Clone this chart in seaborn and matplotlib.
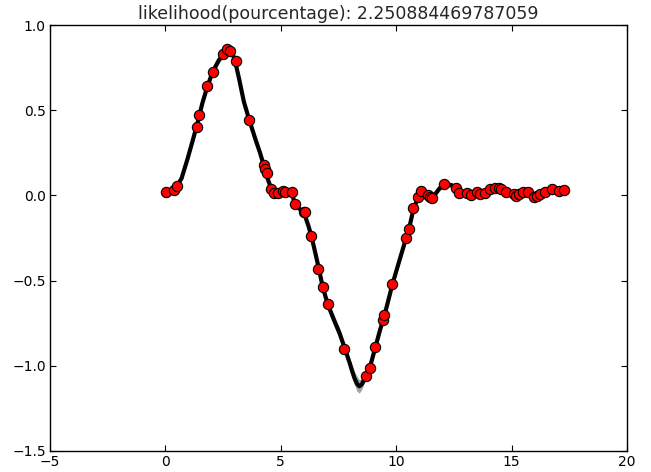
import matplotlib
matplotlib.use("Agg")
import matplotlib.pyplot as plt
import seaborn as sns
import numpy as np
import pandas as pd

title = "likelihood(pourcentage): 2.250884469787059"

# observed points
obs_x = [0.03, 0.38, 0.49, 1.36, 1.46, 1.82, 2.05, 2.51, 2.69, 2.80, 3.06, 3.64,
         4.28, 4.33, 4.40, 4.58, 4.71, 4.90, 5.09, 5.19, 5.49, 5.62, 6.00, 6.06,
         6.32, 6.63, 6.82, 7.04, 7.76, 8.70, 8.85, 9.10, 9.42, 9.49, 9.84, 10.43,
         10.54, 10.75, 10.94, 11.07, 11.37, 11.47, 11.57, 12.08, 12.60, 12.73,
         13.06, 13.24, 13.48, 13.64, 13.86, 14.07, 14.26, 14.46, 14.54, 14.75,
         15.12, 15.19, 15.30, 15.49, 15.69, 15.95, 16.10, 16.24, 16.43, 16.75,
         17.04, 17.25]
obs_y = [0.02, 0.03, 0.055, 0.40, 0.47, 0.64, 0.725, 0.83, 0.86, 0.845, 0.79, 0.44,
         0.18, 0.157, 0.134, 0.035, 0.012, 0.012, 0.024, 0.018, 0.02, -0.05, -0.10, -0.10,
         -0.24, -0.43, -0.54, -0.64, -0.90, -1.06, -1.01, -0.89, -0.73, -0.70, -0.52, -0.25,
         -0.20, -0.075, -0.01, 0.024, 0.0, -0.008, -0.014, 0.066, 0.045, 0.014,
         0.016, 0.002, 0.022, 0.006, 0.012, 0.035, 0.041, 0.045, 0.035, 0.02,
         0.006, -0.004, 0.006, 0.022, 0.02, -0.01, -0.004, 0.006, 0.02, 0.035,
         0.025, 0.033]

# predicted mean curve and its spread
curve_x = [0.0, 0.4, 0.7, 0.95, 1.2, 1.4, 1.6, 1.82, 2.05, 2.3, 2.5, 2.7, 2.85, 3.0,
           3.2, 3.4, 3.64, 3.9, 4.1, 4.3, 4.45, 4.6, 4.8, 5.0, 5.2, 5.45, 5.62, 5.85,
           6.05, 6.2, 6.33, 6.5, 6.65, 6.82, 7.05, 7.3, 7.55, 7.78, 8.0, 8.1, 8.2,
           8.3, 8.4, 8.5, 8.6, 8.7, 8.88, 9.1, 9.3, 9.5, 9.84, 10.1, 10.43, 10.55,
           10.75, 10.95, 11.1, 11.3, 11.5, 11.7, 11.9, 12.1, 12.4, 12.7, 13.0, 13.3,
           13.6, 13.9, 14.2, 14.5, 14.8, 15.1, 15.4, 15.7, 16.0, 16.3, 16.6, 16.9,
           17.25]
curve_y = [0.02, 0.035, 0.10, 0.21, 0.33, 0.43, 0.54, 0.64, 0.725, 0.79, 0.83, 0.86,
           0.85, 0.80, 0.68, 0.55, 0.44, 0.33, 0.25, 0.16, 0.09, 0.035, 0.01, 0.015,
           0.02, 0.015, -0.045, -0.085, -0.12, -0.18, -0.24, -0.34, -0.43, -0.54,
           -0.645, -0.73, -0.81, -0.90, -0.99, -1.035, -1.075, -1.105, -1.12, -1.11,
           -1.085, -1.055, -1.0, -0.89, -0.79, -0.70, -0.52, -0.40, -0.25, -0.20,
           -0.08, -0.01, 0.015, 0.005, -0.005, 0.01, 0.045, 0.065, 0.06, 0.03, 0.015,
           0.005, 0.01, 0.02, 0.04, 0.042, 0.02, 0.005, 0.012, 0.015, -0.005, 0.005,
           0.025, 0.03, 0.033]
curve_sd = [0.008, 0.006, 0.008, 0.01, 0.01, 0.008, 0.01, 0.008, 0.008, 0.01, 0.01,
            0.012, 0.01, 0.01, 0.012, 0.012, 0.008, 0.012, 0.012, 0.008, 0.008, 0.006,
            0.006, 0.006, 0.006, 0.006, 0.006, 0.008, 0.008, 0.008, 0.008, 0.01, 0.008,
            0.008, 0.01, 0.016, 0.016, 0.01, 0.014, 0.018, 0.02, 0.022, 0.02, 0.016,
            0.012, 0.01, 0.01, 0.01, 0.012, 0.01, 0.01, 0.012, 0.008, 0.008, 0.008,
            0.006, 0.006, 0.006, 0.006, 0.008, 0.008, 0.008, 0.008, 0.008, 0.006,
            0.006, 0.006, 0.006, 0.006, 0.006, 0.006, 0.006, 0.006, 0.006, 0.006,
            0.006, 0.006, 0.006, 0.008]

sns.set_style("ticks", {"xtick.direction": "in", "ytick.direction": "in",
                        "axes.edgecolor": "black"})
plt.rcParams["font.family"] = ["DejaVu Sans"]

fig = plt.figure(figsize=(6.51, 4.72), dpi=100)
ax = fig.add_axes([0.0768, 0.0445, 0.8863, 0.9025])

curve = pd.DataFrame({"x": curve_x, "y": curve_y, "sd": curve_sd})
obs = pd.DataFrame({"x": obs_x, "y": obs_y})

ax.fill_between(curve["x"], curve["y"] - 2 * curve["sd"], curve["y"] + 2 * curve["sd"],
                color="0.4", alpha=0.6, linewidth=0)
sns.lineplot(data=curve, x="x", y="y", ax=ax, color="black", linewidth=3,
             sort=False, estimator=None, solid_joinstyle="round",
             solid_capstyle="round")
sns.scatterplot(data=obs, x="x", y="y", ax=ax, color="red", edgecolor="black",
                linewidth=0.8, s=55, zorder=5)

ax.set_xlim(-5, 20)
ax.set_ylim(-1.5, 1.0)
ax.set_xticks([-5, 0, 5, 10, 15, 20])
ax.set_yticks([-1.5, -1.0, -0.5, 0.0, 0.5, 1.0])
ax.set_xlabel("")
ax.set_ylabel("")
ax.tick_params(top=True, right=True, length=4, width=0.8, labelsize=10, pad=3,
               colors="black")
for s in ax.spines.values():
    s.set_linewidth(1.0)
    s.set_color("black")
ax.set_title(title, fontsize=12.5, pad=4)

fig.savefig("out.png", dpi=100)
